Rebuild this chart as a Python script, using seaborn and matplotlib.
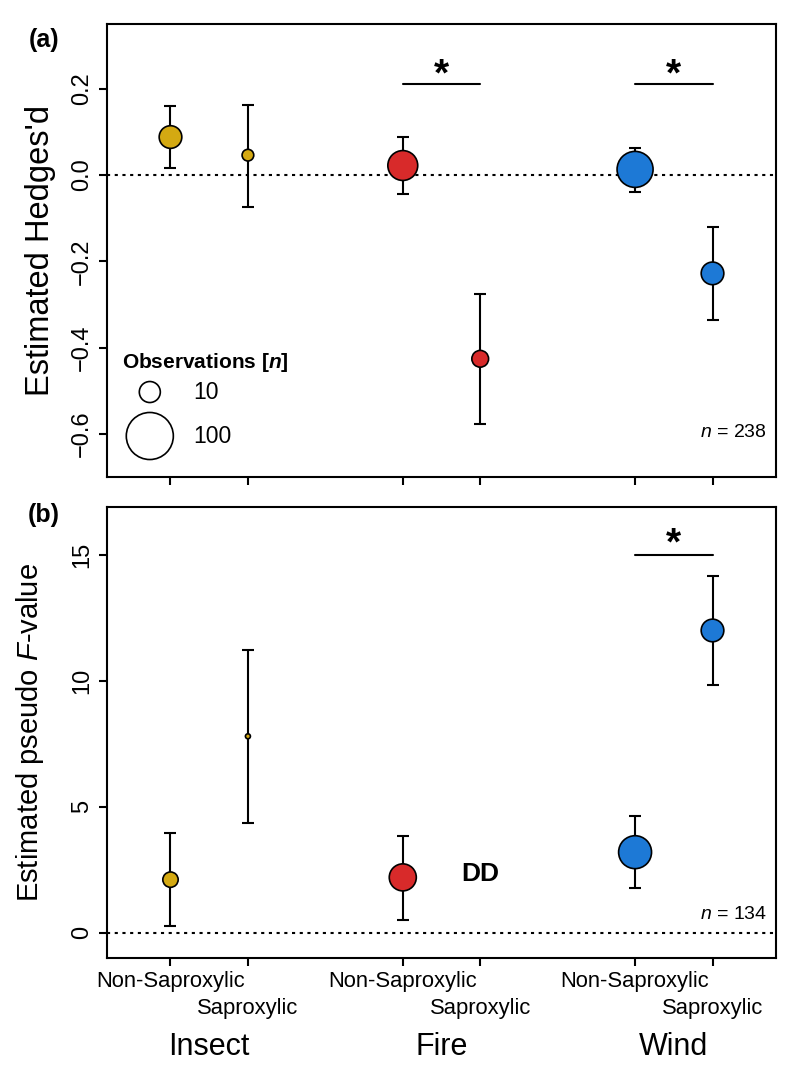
import numpy as np
import pandas as pd
import matplotlib
matplotlib.use("Agg")
import matplotlib.pyplot as plt
import seaborn as sns
from matplotlib.ticker import FuncFormatter
from matplotlib.transforms import blended_transform_factory

# ---------------- data ----------------
disturbances = ["Insect", "Fire", "Wind"]
groups = ["Non-Saproxylic", "Saproxylic"]

# panel (a): Estimated Hedges' d (order: Insect NS, Insect S, Fire NS, Fire S, Wind NS, Wind S)
hedges_est = [0.088, 0.046, 0.022, -0.426, 0.013, -0.228]
hedges_lo = [0.016, -0.073, -0.043, -0.577, -0.039, -0.337]
hedges_hi = [0.160, 0.163, 0.088, -0.275, 0.063, -0.121]
hedges_obs = [12, 3, 25, 6, 43, 12]
hedges_sig = ["Fire", "Wind"]
hedges_total = 238

# panel (b): Estimated pseudo F-value (Fire Saproxylic = data deficient)
fval_est = [2.11, 7.80, 2.20, np.nan, 3.20, 12.0]
fval_lo = [0.27, 4.34, 0.50, np.nan, 1.77, 9.85]
fval_hi = [3.97, 11.24, 3.86, np.nan, 4.65, 14.16]
fval_obs = [5, 1, 19, np.nan, 33, 12]
fval_sig = ["Wind"]
fval_total = 134

legend_levels = [10, 100]

palette = {"Insect": "#D4A912", "Fire": "#D82A2A", "Wind": "#1D79D6"}

# ---------------- style ----------------
sns.set_theme(style="ticks")
plt.rcParams["font.family"] = ["Liberation Sans", "DejaVu Sans"]
plt.rcParams["mathtext.fontset"] = "custom"
plt.rcParams["mathtext.rm"] = "Liberation Sans"
plt.rcParams["mathtext.it"] = "Liberation Sans:italic"
plt.rcParams["mathtext.bf"] = "Liberation Sans:bold"
plt.rcParams["mathtext.bfit"] = "Liberation Sans:bold:italic"
plt.rcParams["axes.linewidth"] = 1.5
plt.rcParams["axes.edgecolor"] = "black"
plt.rcParams["text.color"] = "black"
plt.rcParams["axes.labelcolor"] = "black"
plt.rcParams["xtick.color"] = "black"
plt.rcParams["ytick.color"] = "black"


def obs_to_area(n):
    d_px = 25.6 * np.power(n, 0.211) - 20.6
    d_pt = d_px * 72.0 / 100.0
    return d_pt ** 2


def build_frame(est, lo, hi, obs):
    rows = []
    for i, dist in enumerate(disturbances):
        for j, grp in enumerate(groups):
            k = i * 2 + j
            rows.append(dict(disturbance=dist, group=grp, pos=i * 3 + j + 1,
                             est=est[k], lo=lo[k], hi=hi[k], n=obs[k]))
    return pd.DataFrame(rows)


fig = plt.figure(figsize=(8, 10.8), dpi=100)
ax_a = fig.add_axes([0.13375, 0.55833, 0.83625, 0.41944])
ax_b = fig.add_axes([0.13375, 0.11296, 0.83625, 0.41759])

LW = 1.5


def draw_panel(ax, df, sig, sig_y, star_y):
    ax.axhline(0, color="black", lw=LW, ls=(0, (1.5, 2.2)), zorder=1)
    d = df.dropna()
    ax.errorbar(d["pos"], d["est"], yerr=[d["est"] - d["lo"], d["hi"] - d["est"]],
                fmt="none", ecolor="black", elinewidth=LW, capsize=4.5,
                capthick=LW, zorder=2)
    sizes = {v: obs_to_area(v) for v in d["n"].unique()}
    sns.scatterplot(data=d, x="pos", y="est", hue="disturbance", palette=palette,
                    size="n", sizes=sizes, edgecolor="black", linewidth=1.2,
                    legend=False, ax=ax, zorder=3)
    for dist in sig:
        p = df.loc[df["disturbance"] == dist, "pos"].values
        ax.plot([p.min(), p.max()], [sig_y, sig_y], color="black", lw=LW)
        ax.text(p.mean(), star_y, "*", ha="center", va="baseline",
                fontsize=28, fontweight="bold")
    ax.set_xlim(0.18, 8.82)
    ax.set_xlabel("")
    ns_pos = df.loc[df["group"] == groups[0], "pos"].values
    s_pos = df.loc[df["group"] == groups[1], "pos"].values
    ax.set_xticks(ns_pos)
    ax.set_xticks(s_pos, minor=True)
    ax.tick_params(axis="both", which="both", direction="out", length=5.5,
                   width=LW, color="black", labelcolor="black")
    ax.tick_params(axis="y", labelrotation=90, pad=4.5, labelsize=17)
    for side in ["top", "right", "left", "bottom"]:
        ax.spines[side].set_visible(True)
        ax.spines[side].set_linewidth(LW)
    return ns_pos, s_pos


def minus_fmt(fmt):
    return FuncFormatter(lambda v, p: (fmt % v).replace("-", "\u2212"))


# ---- panel (a)
df_a = build_frame(hedges_est, hedges_lo, hedges_hi, hedges_obs)
draw_panel(ax_a, df_a, hedges_sig, 0.21, 0.208)
ax_a.set_ylim(-0.70, 0.35)
ax_a.set_yticks([-0.6, -0.4, -0.2, 0.0, 0.2])
ax_a.yaxis.set_major_formatter(minus_fmt("%.1f"))
ax_a.set_xticklabels([])
ax_a.set_ylabel("Estimated Hedges'd", fontsize=23.5)
ax_a.yaxis.set_label_coords(-0.076, 0.5)
ax_a.text(0.987, -0.598, r"$\mathit{n}$ = " + str(hedges_total), ha="right",
          va="center", fontsize=14,
          transform=blended_transform_factory(ax_a.transAxes, ax_a.transData))

# size legend
ax_a.text(0.0224, 0.2517, r"$\mathbf{Observations\ [}\mathbfit{n}\mathbf{]}$",
          transform=ax_a.transAxes, ha="left", va="center", fontsize=15)
leg_y = [0.1876, 0.0905]
ax_a.scatter([0.064] * len(legend_levels), leg_y,
             s=[obs_to_area(v) for v in legend_levels], facecolor="white",
             edgecolor="black", linewidth=1.2, transform=ax_a.transAxes, zorder=4)
for v, yy in zip(legend_levels, leg_y):
    ax_a.text(0.1285, yy, str(v), transform=ax_a.transAxes, ha="left",
              va="center", fontsize=16.5)

# ---- panel (b)
df_b = build_frame(fval_est, fval_lo, fval_hi, fval_obs)
ns_pos, s_pos = draw_panel(ax_b, df_b, fval_sig, 15.0, 15.0)
ax_b.set_ylim(-1.0, 16.9)
ax_b.set_yticks([0, 5, 10, 15])
ax_b.yaxis.set_major_formatter(minus_fmt("%d"))
ax_b.set_xticklabels([groups[0]] * len(ns_pos), fontsize=15.8)
ax_b.set_xticks(s_pos, [groups[1]] * len(s_pos), minor=True, fontsize=15.8)
ax_b.tick_params(axis="x", which="major", pad=4)
ax_b.tick_params(axis="x", which="minor", pad=23)
ax_b.set_ylabel(r"Estimated pseudo $\mathit{F}$-value", fontsize=21)
ax_b.yaxis.set_label_coords(-0.091, 0.5)
ax_b.text(0.987, 0.71, r"$\mathit{n}$ = " + str(fval_total), ha="right",
          va="center", fontsize=14,
          transform=blended_transform_factory(ax_b.transAxes, ax_b.transData))
# data-deficient marker
dd_pos = df_b.loc[df_b["est"].isna(), "pos"].values
for p in dd_pos:
    ax_b.text(p, 2.34, "DD", ha="center", va="center", fontsize=19, fontweight="bold")

# disturbance labels
trans = blended_transform_factory(ax_b.transData, ax_b.transAxes)
for dist in disturbances:
    p = df_b.loc[df_b["disturbance"] == dist, "pos"].mean()
    ax_b.text(p, -0.197, dist, transform=trans, ha="center", va="center", fontsize=22)

for ax in (ax_a, ax_b):
    for lab in ax.get_yticklabels():
        lab.set_va("center")

fig.text(0.055, 0.963, "(a)", ha="center", va="center", fontsize=18, fontweight="bold")
fig.text(0.055, 1 - 515 / 1080, "(b)", ha="center", va="center", fontsize=18, fontweight="bold")

fig.savefig("out.png", dpi=100)
